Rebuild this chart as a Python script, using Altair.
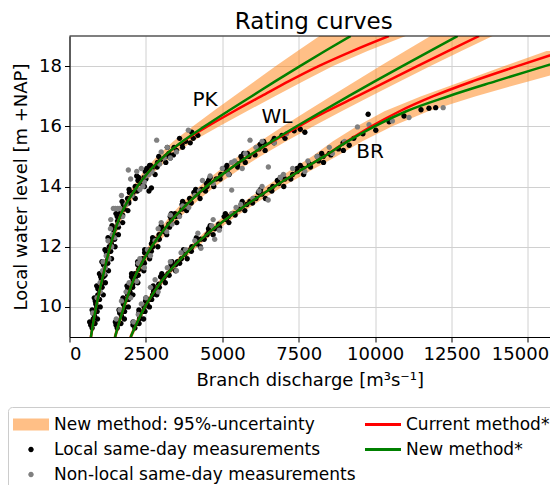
import altair as alt
import pandas as pd

# ---------------- data ----------------
H_GRID = [9.0, 9.5, 10.0, 10.5, 11.0, 11.5, 12.0, 12.5, 13.0, 13.5, 14.0,
          14.5, 15.0, 15.5, 16.0, 16.5, 17.0, 17.5, 18.0, 18.5, 19.0]
H_GRID_BR = [9.0, 9.5, 10.0, 10.5, 11.0, 11.5, 12.0, 12.5, 13.0, 13.5, 14.0,
             14.5, 15.0, 15.5, 16.0, 16.5, 17.0, 17.5, 18.0, 18.5]

PK_NEW = [700, 780, 870, 975, 1090, 1205, 1327, 1475, 1650, 1900, 2217,
          2600, 3090, 3700, 4420, 5180, 5960, 6740, 7540, 8360, 9200]
PK_CUR = [700, 780, 870, 975, 1090, 1205, 1327, 1475, 1650, 1900, 2217,
          2600, 3090, 3720, 4520, 5380, 6280, 7180, 8150, 9250, 10450]
PK_LO = [655, 735, 822, 922, 1030, 1140, 1255, 1393, 1555, 1785, 2075,
         2420, 2860, 3400, 4040, 4700, 5380, 6060, 6750, 7460, 8180]
PK_HI = [745, 828, 920, 1030, 1150, 1272, 1402, 1560, 1750, 2020, 2365,
         2790, 3340, 4030, 4900, 5800, 6720, 7650, 8620, 9750, 11000]

WL_NEW = [1490, 1630, 1783, 1950, 2140, 2390, 2686, 3040, 3446, 3930, 4479,
          5130, 5840, 6620, 7430, 8270, 9130, 10000, 10890, 11790, 12700]
WL_CUR = [1490, 1630, 1783, 1950, 2140, 2390, 2686, 3040, 3446, 3930, 4479,
          5130, 5850, 6650, 7500, 8420, 9420, 10400, 11380, 12380, 13400]
WL_LO = [1438, 1570, 1714, 1871, 2050, 2285, 2564, 2896, 3277, 3731, 4244,
         4852, 5513, 6238, 6988, 7763, 8555, 9353, 10166, 10985, 11811]
WL_HI = [1542, 1692, 1855, 2034, 2238, 2507, 2824, 3205, 3642, 4165, 4759,
         5465, 6237, 7088, 7976, 8901, 9851, 10818, 11810, 12819, 13843]

BR_NEW = [2001, 2220, 2468, 2770, 3120, 3550, 4043, 4600, 5239, 5950, 6700,
          7500, 8330, 9100, 9980, 11020, 12400, 13950, 15550, 17150]
BR_CUR = [2001, 2220, 2468, 2770, 3120, 3550, 4043, 4600, 5239, 5950, 6700,
          7500, 8330, 9080, 9880, 10800, 11900, 13200, 14650, 16150]
BR_LO = [1941, 2153, 2394, 2684, 3020, 3431, 3902, 4432, 5040, 5712, 6419,
         7163, 7930, 8618, 9401, 10304, 11507, 12862, 14228, 15607]
BR_HI = [2061, 2287, 2542, 2856, 3220, 3669, 4185, 4768, 5438, 6188, 6981,
         7838, 8730, 9582, 10559, 11736, 13293, 15038, 16872, 18694]

# measurements: discharge [m3/s] and water level [m +NAP]
PK_LOC_Q = [740, 790, 775, 820, 845, 890, 860, 935, 925, 990, 965, 1050, 1045, 1110, 1090,
            1170, 1150, 1240, 1220, 1310, 1300, 1370, 1380, 1470, 1450, 1560, 1570, 1680, 1640, 1790,
            1810, 1930, 1900, 2050, 2080, 2180, 2150, 2320, 2290, 2440, 2200, 2560, 2480, 2700, 2620,
            2880, 2600, 2680, 2980, 3150, 3250, 3400, 3500, 3420, 3680, 3800, 3950, 4050, 4200, 4000]
PK_LOC_H = [9.3, 9.45, 9.6, 9.7, 9.85, 10.0, 10.1, 10.25, 10.4, 10.5, 10.6, 10.75, 10.9, 11.0, 11.15,
            11.3, 11.4, 11.55, 11.7, 11.85, 12.0, 12.1, 12.25, 12.4, 12.55, 12.7, 12.85, 13.0, 13.1, 13.25,
            13.4, 13.5, 13.6, 13.7, 13.8, 13.9, 14.0, 14.1, 14.2, 14.3, 14.35, 14.45, 14.5, 14.6, 14.7,
            14.8, 13.85, 13.95, 14.9, 15.0, 15.1, 15.05, 15.2, 15.3, 15.4, 15.5, 15.45, 15.6, 15.7, 15.8]
PK_LOC2_Q = [660, 915, 740, 1005, 810, 1105, 890, 1175, 980, 1275, 1060, 1375, 1160, 1490, 1260, 1600,
             1390, 1740, 1520, 1910, 1720, 2150, 1950, 2450, 2260, 2800, 2650, 3150, 3200, 3300, 3600, 3700]
PK_LOC2_H = [9.5, 9.6, 9.9, 10.0, 10.3, 10.4, 10.7, 10.8, 11.1, 11.2, 11.5, 11.6, 11.9, 12.0, 12.3, 12.4,
             12.7, 12.8, 13.1, 13.2, 13.5, 13.6, 13.9, 14.0, 14.3, 14.4, 14.7, 14.8, 15.3, 14.95, 15.6, 15.3]
PK_LOC3_Q = [694, 834, 764, 904, 842, 982, 928, 1068, 1020, 1160, 1112, 1252, 1208, 1348, 1296, 1476,
             1420, 1600, 1560, 1740, 1760, 1940, 1960, 2220, 2240, 2500, 2528, 2868, 2920, 3260]
PK_LOC3_H = [9.4, 9.45, 9.8, 9.85, 10.2, 10.25, 10.6, 10.65, 11.0, 11.05, 11.4, 11.45, 11.8, 11.85, 12.2,
             12.25, 12.6, 12.65, 13.0, 13.05, 13.4, 13.45, 13.8, 13.85, 14.2, 14.25, 14.6, 14.65, 15.0, 15.05]
PK_NL_Q = [760, 900, 1010, 1080, 1130, 1200, 1290, 1380, 1340, 1470, 1434, 1500, 1580, 1652, 1740,
           1925, 2050, 2300, 2400, 2450, 2500, 2700, 2852, 2950, 3200, 3500, 3888, 3100, 2200,
           1000, 1100, 1180, 1260, 1400, 1350, 1580, 1700, 1850, 2000, 2350, 2600, 3000, 3300]
PK_NL_H = [9.8, 10.3, 10.5, 11.2, 11.1, 11.7, 11.6, 12.0, 12.6, 12.3, 13.27, 13.27, 13.27, 13.27, 13.0,
           14.55, 13.7, 13.9, 14.0, 14.15, 14.35, 14.5, 15.54, 14.75, 15.3, 15.15, 15.87, 14.95, 14.5,
           10.8, 11.5, 11.3, 12.2, 12.4, 12.9, 12.75, 13.7, 13.4, 14.25, 14.6, 14.4, 15.15, 14.95]

WL_LOC_Q = [1560, 1620, 1570, 1700, 1720, 1800, 1760, 1880, 1900, 1980, 1940, 2070, 2080, 2170, 2140,
            2270, 2320, 2420, 2390, 2540, 2590, 2720, 2680, 2860, 2930, 3080, 3050, 3250, 3330, 3480,
            3450, 3680, 3790, 3960, 3930, 4190, 4320, 4500, 4480, 4800, 4950, 5150, 5120, 5500, 5650,
            5870, 5820, 6200, 6400, 6650, 6700, 6950, 7350, 7550, 7700]
WL_LOC_H = [9.3, 9.45, 9.55, 9.7, 9.85, 10.0, 10.1, 10.25, 10.4, 10.5, 10.6, 10.75, 10.9, 11.0, 11.1,
            11.25, 11.4, 11.5, 11.6, 11.75, 11.9, 12.0, 12.1, 12.25, 12.4, 12.5, 12.6, 12.75, 12.9, 13.0,
            13.1, 13.25, 13.4, 13.5, 13.6, 13.75, 13.9, 14.0, 14.1, 14.25, 14.4, 14.5, 14.6, 14.75, 14.9,
            15.0, 15.1, 15.25, 15.4, 15.5, 15.6, 15.7, 15.85, 15.9, 15.8]
WL_LOC2_Q = [1500, 1795, 1620, 1925, 1750, 2075, 1880, 2235, 2030, 2430, 2230, 2620, 2460, 2890, 2720, 3180,
             3000, 3510, 3330, 3830, 3700, 4270, 4130, 4720, 4600, 5220, 5150, 5750, 5700, 6400, 6350, 7050]
WL_LOC2_H = [9.5, 9.6, 9.9, 10.0, 10.3, 10.4, 10.7, 10.8, 11.1, 11.2, 11.5, 11.6, 11.9, 12.0, 12.3, 12.4,
             12.7, 12.8, 13.1, 13.2, 13.5, 13.6, 13.9, 14.0, 14.3, 14.4, 14.7, 14.8, 15.1, 15.2, 15.5, 15.6]
WL_LOC3_Q = [1522, 1682, 1642, 1802, 1770, 1930, 1908, 2068, 2030, 2250, 2230, 2450, 2457, 2677, 2718, 2938,
             2971, 3271, 3296, 3596, 3683, 3983, 4069, 4449, 4549, 4929, 5042, 5502, 5610, 6070, 6234, 6694]
WL_LOC3_H = [9.4, 9.45, 9.8, 9.85, 10.2, 10.25, 10.6, 10.65, 11.0, 11.05, 11.4, 11.45, 11.8, 11.85, 12.2, 12.25,
             12.6, 12.65, 13.0, 13.05, 13.4, 13.45, 13.8, 13.85, 14.2, 14.25, 14.6, 14.65, 15.0, 15.05, 15.4, 15.45]
WL_NL_Q = [1530, 1650, 1850, 2000, 2200, 2450, 2300, 2650, 2800, 3180, 3000, 3350, 3600, 3900, 4100,
           4350, 4700, 5000, 5306, 5300, 5200, 5650, 5906, 6100, 6506, 6700, 7100,
           1700, 1950, 2250, 2550, 2900, 3300, 3700, 4250, 4600, 5400, 5750, 6300]
WL_NL_H = [9.6, 9.9, 10.5, 10.3, 10.85, 11.3, 11.6, 11.7, 12.2, 12.5, 12.8, 12.75, 13.0, 13.3, 13.7,
           14.2, 14.1, 14.6, 13.88, 14.8, 14.4, 14.6, 15.54, 15.3, 14.65, 15.45, 15.75,
           10.2, 10.8, 11.45, 11.9, 12.6, 13.05, 13.35, 13.85, 14.35, 14.85, 15.1, 15.5]

BR_LOC_Q = [2140, 2180, 2290, 2300, 2420, 2440, 2540, 2600, 2720, 2750, 2860, 2920, 3060, 3100, 3220,
            3300, 3470, 3530, 3660, 3770, 3960, 4000, 4170, 4290, 4500, 4560, 4760, 4880, 5130, 5200,
            5400, 5560, 5800, 5900, 6100, 6300, 6550, 6650, 6850, 7050, 7300, 7450, 7650, 7850, 8150,
            8300, 8500, 8800, 9151, 8950, 9300, 9600, 10021, 10455, 10943, 9770, 11500, 11760, 11980]
BR_LOC_H = [9.3, 9.45, 9.6, 9.7, 9.85, 10.0, 10.1, 10.25, 10.4, 10.5, 10.6, 10.75, 10.9, 11.0, 11.1,
            11.25, 11.4, 11.5, 11.6, 11.75, 11.9, 12.0, 12.1, 12.25, 12.4, 12.5, 12.6, 12.75, 12.9, 13.0,
            13.1, 13.25, 13.4, 13.5, 13.6, 13.75, 13.9, 14.0, 14.1, 14.25, 14.4, 14.5, 14.6, 14.75, 14.85,
            15.0, 15.1, 15.25, 15.37, 15.45, 15.6, 15.75, 15.87, 16.15, 16.34, 16.4, 16.55, 16.6, 16.62]
BR_LOC2_Q = [2080, 2425, 2270, 2615, 2500, 2855, 2740, 3135, 3020, 3470, 3350, 3850, 3730, 4280, 4150,
             4700, 4600, 5215, 5100, 5735, 5650, 6410, 6250, 7010, 6900, 7660, 7550, 8310, 8250, 8960]
BR_LOC2_H = [9.5, 9.6, 9.9, 10.0, 10.3, 10.4, 10.7, 10.8, 11.1, 11.2, 11.5, 11.6, 11.9, 12.0, 12.3,
             12.4, 12.7, 12.8, 13.1, 13.2, 13.5, 13.6, 13.9, 14.0, 14.3, 14.4, 14.7, 14.8, 15.1, 15.2]
BR_LOC3_Q = [2076, 2276, 2269, 2469, 2489, 2689, 2740, 2940, 2980, 3260, 3324, 3604, 3706, 3986, 4126,
             4406, 4548, 4908, 5059, 5419, 5628, 5988, 6180, 6620, 6800, 7240, 7446, 7886, 8110, 8550]
BR_LOC3_H = [9.4, 9.45, 9.8, 9.85, 10.2, 10.25, 10.6, 10.65, 11.0, 11.05, 11.4, 11.45, 11.8, 11.85, 12.2,
             12.25, 12.6, 12.65, 13.0, 13.05, 13.4, 13.45, 13.8, 13.85, 14.2, 14.25, 14.6, 14.65, 15.0, 15.05]
BR_NL_Q = [2100, 2350, 2650, 2900, 3300, 3500, 3800, 4100, 4300, 4650, 4900, 5300, 4750, 5600, 6000,
           6300, 6500, 6900, 7300, 7700, 8100, 8600, 9000, 9421, 10564, 11107, 12225,
           2250, 2500, 2800, 3200, 3650, 4200, 4700, 5450, 6200, 7000, 7800, 8500, 9800]
BR_NL_H = [9.5, 10.1, 10.65, 10.5, 11.5, 11.2, 11.9, 12.2, 11.95, 12.7, 12.55, 13.1, 12.25, 13.4, 13.6,
           14.0, 13.55, 14.3, 14.6, 14.5, 15.0, 15.1, 15.5, 15.98, 16.18, 16.29, 16.62,
           9.75, 10.3, 10.9, 11.3, 11.8, 12.45, 12.9, 13.3, 13.85, 14.4, 14.85, 15.3, 16.05]

LABEL_TEXT = ["PK", "WL", "BR"]
LABEL_Q = [4434, 6789, 9832]
LABEL_H = [16.86, 16.31, 15.13]

X_TICKS = [0, 2500, 5000, 7500, 10000, 12500, 15000]
Y_TICKS = [10, 12, 14, 16, 18]
TOP_LEVEL = [19]

# legend entries, in column-major order (column 1 then column 2)
SERIES = ["New method: 95%-uncertainty", "Local same-day measurements",
          "Non-local same-day measurements", "Current method*", "New method*"]
SERIES_COLORS = ["#ffbf86", "#000000", "#808080", "#ff0000", "#008000"]
DOT = "M-0.15,0A0.15,0.15,0,1,1,0.15,0A0.15,0.15,0,1,1,-0.15,0Z"
BAR = "M-1,-0.333H1V0.333H-1Z"
LINE = "M-1,-0.08H1V0.08H-1Z"
SERIES_SHAPES = [BAR, DOT, DOT, LINE, LINE]

# ---------------- tables ----------------
curve_rows = []
for st, hs, qn, qc, ql, qh in [
    ("PK", H_GRID, PK_NEW, PK_CUR, PK_LO, PK_HI),
    ("WL", H_GRID, WL_NEW, WL_CUR, WL_LO, WL_HI),
    ("BR", H_GRID_BR, BR_NEW, BR_CUR, BR_LO, BR_HI),
]:
    for h, a, b, c, d in zip(hs, qn, qc, ql, qh):
        curve_rows.append({"station": st, "h": h, "q_new": a, "q_cur": b, "q_lo": c, "q_hi": d})
curves = pd.DataFrame(curve_rows)

pt_rows = []
for qs, hs, ser in [
    (PK_LOC_Q, PK_LOC_H, SERIES[1]), (WL_LOC_Q, WL_LOC_H, SERIES[1]), (BR_LOC_Q, BR_LOC_H, SERIES[1]),
    (PK_LOC2_Q, PK_LOC2_H, SERIES[1]), (WL_LOC2_Q, WL_LOC2_H, SERIES[1]), (BR_LOC2_Q, BR_LOC2_H, SERIES[1]),
    (PK_LOC3_Q, PK_LOC3_H, SERIES[1]), (WL_LOC3_Q, WL_LOC3_H, SERIES[1]), (BR_LOC3_Q, BR_LOC3_H, SERIES[1]),
    (PK_NL_Q, PK_NL_H, SERIES[2]), (WL_NL_Q, WL_NL_H, SERIES[2]), (BR_NL_Q, BR_NL_H, SERIES[2]),
]:
    for q, h in zip(qs, hs):
        pt_rows.append({"q": q, "h": h, "series": ser})
points = pd.DataFrame(pt_rows)

labels = pd.DataFrame({"label": LABEL_TEXT, "q": LABEL_Q, "h": LABEL_H})
top = pd.DataFrame({"h": TOP_LEVEL})

# ---------------- chart ----------------
FONT = "DejaVu Sans"
x_scale = alt.Scale(domain=[0, 15720], nice=False, zero=False)
y_scale = alt.Scale(domain=[9, 19], nice=False, zero=False)
x_axis = alt.Axis(values=X_TICKS, format="d", title="Branch discharge [m³s⁻¹]",
                  labelOffset={"expr": "datum.value == 15000 ? -8 : 0"})
y_axis = alt.Axis(values=Y_TICKS, format="d", title="Local water level [m +NAP]")

legend = alt.Legend(
    title=None, orient="none", legendX=-61.5, legendY=371,
    columns=2, columnPadding=9, rowPadding=0, clipHeight=25,
    symbolSize=1296, symbolStrokeWidth=0, symbolOffset=0, labelOffset=5,
    labelFont=FONT, labelFontSize=17, labelColor="black", labelLimit=500,
    padding=5, strokeColor="#cccccc", fillColor="white", cornerRadius=4,
)

cb = alt.Chart(curves)

band = cb.mark_area(orient="horizontal", clip=True, color="#ff7f0e", opacity=0.5).encode(
    y=alt.Y("h:Q", scale=y_scale, axis=y_axis),
    x=alt.X("q_lo:Q", scale=x_scale, axis=x_axis),
    x2="q_hi:Q",
    detail="station:N",
)

pts = alt.Chart(points).mark_point(filled=True, size=1296, opacity=1, strokeWidth=0, clip=True).encode(
    x=alt.X("q:Q", scale=x_scale, axis=x_axis),
    y=alt.Y("h:Q", scale=y_scale, axis=y_axis),
    color=alt.Color("series:N", scale=alt.Scale(domain=SERIES, range=SERIES_COLORS), legend=legend),
    shape=alt.Shape("series:N", scale=alt.Scale(domain=SERIES, range=SERIES_SHAPES), legend=legend),
)

cur = cb.mark_line(clip=True, color="#ff0000", strokeWidth=2.5, interpolate="monotone").encode(
    x=alt.X("q_cur:Q", scale=x_scale, axis=x_axis),
    y=alt.Y("h:Q", scale=y_scale, axis=y_axis),
    detail="station:N",
)

new = cb.mark_line(clip=True, color="#008000", strokeWidth=2.5, interpolate="monotone").encode(
    x=alt.X("q_new:Q", scale=x_scale, axis=x_axis),
    y=alt.Y("h:Q", scale=y_scale, axis=y_axis),
    detail="station:N",
)

txt = alt.Chart(labels).mark_text(font=FONT, fontSize=20, color="black").encode(
    x=alt.X("q:Q", scale=x_scale, axis=x_axis),
    y=alt.Y("h:Q", scale=y_scale, axis=y_axis),
    text="label:N",
)

# top spine of the plot frame (upper end of the level axis)
spine = alt.Chart(top).mark_rule(color="black", strokeWidth=1.2).encode(
    y=alt.Y("h:Q", scale=y_scale, axis=y_axis),
)

chart = alt.layer(band, pts, cur, new, txt, spine).properties(
    width=480.5, height=301,
    title=alt.TitleParams("Rating curves", font=FONT, fontSize=23, fontWeight="normal",
                          color="black", anchor="middle", baseline="alphabetic",
                          offset=7, dy=24, dx=4),
    autosize=alt.AutoSizeParams(type="none"),
    padding={"left": 61.5, "top": 28, "right": 0, "bottom": 150},
).configure_view(
    stroke=None
).configure_axis(
    grid=True, gridColor="#d0d0d0", gridWidth=1,
    domain=True, domainColor="black", domainWidth=1.2,
    ticks=True, tickColor="black", tickSize=5, tickWidth=1,
    labelFont=FONT, labelFontSize=18, labelColor="black", labelPadding=3,
    titleFont=FONT, titleFontSize=18, titleFontWeight="normal", titleColor="black", titlePadding=8,
)

chart.save("out.html", embed_options={"renderer": "svg", "actions": False})
